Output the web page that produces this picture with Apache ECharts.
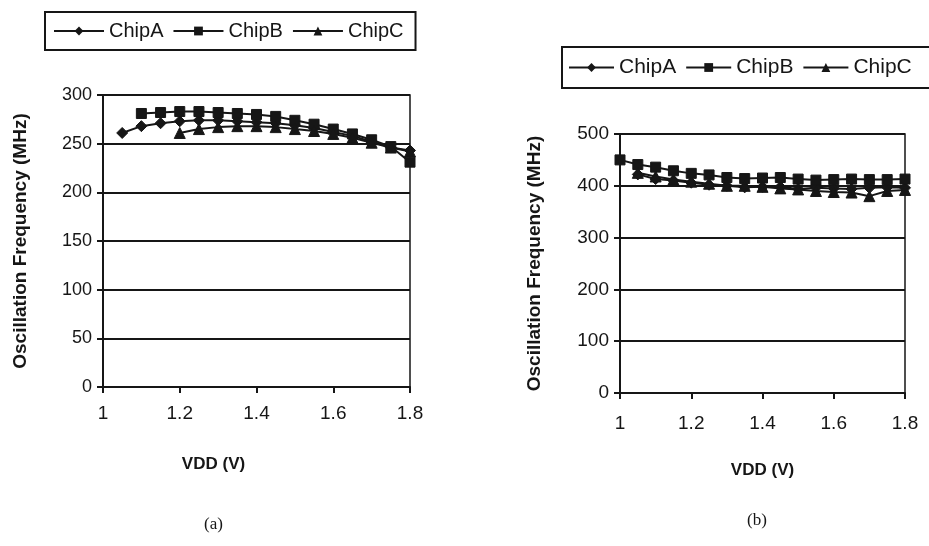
<!DOCTYPE html>
<html>
<head>
<meta charset="utf-8">
<script src="https://cdn.jsdelivr.net/npm/echarts@6/dist/echarts.min.js"></script>
<style>
html, body { margin: 0; padding: 0; background: #fff; }
#main { width: 929px; height: 546px; }
</style>
</head>
<body>
<div id="main"></div>
<script>
// chart (a)
var vddA_a = [1.05, 1.1, 1.15, 1.2, 1.25, 1.3, 1.35, 1.4, 1.45, 1.5, 1.55, 1.6, 1.65, 1.7, 1.75, 1.8];
var chipA_a = [261, 268, 271, 273, 274, 274, 273, 272, 271, 269, 266, 262, 258, 252, 246, 243];
var vddB_a = [1.1, 1.15, 1.2, 1.25, 1.3, 1.35, 1.4, 1.45, 1.5, 1.55, 1.6, 1.65, 1.7, 1.75, 1.8];
var chipB_a = [281, 282, 283, 283, 282, 281, 280, 278, 274, 270, 265, 260, 254, 247, 231];
var vddC_a = [1.2, 1.25, 1.3, 1.35, 1.4, 1.45, 1.5, 1.55, 1.6, 1.65, 1.7, 1.75, 1.8];
var chipC_a = [261, 265, 267, 268, 268, 267, 265, 263, 260, 256, 251, 246, 242];
var yTicksA = [0, 300, 50];

// chart (b)
var vddA_b = [1.05, 1.1, 1.15, 1.2, 1.25, 1.3, 1.35, 1.4, 1.45, 1.5, 1.55, 1.6, 1.65, 1.7, 1.75, 1.8];
var chipA_b = [422, 413, 410, 406, 402, 400, 397, 398, 398, 394, 396, 395, 394, 396, 397, 396];
var vddB_b = [1.0, 1.05, 1.1, 1.15, 1.2, 1.25, 1.3, 1.35, 1.4, 1.45, 1.5, 1.55, 1.6, 1.65, 1.7, 1.75, 1.8];
var chipB_b = [450, 441, 436, 429, 424, 421, 416, 414, 415, 416, 413, 411, 412, 413, 412, 412, 413];
var vddC_b = [1.05, 1.1, 1.15, 1.2, 1.25, 1.3, 1.35, 1.4, 1.45, 1.5, 1.55, 1.6, 1.65, 1.7, 1.75, 1.8];
var chipC_b = [425, 418, 412, 408, 404, 400, 400, 398, 395, 393, 390, 388, 387, 380, 390, 392];
var yTicksB = [0, 500, 100];

var xTicks = [1, 1.8, 0.2];
var names = ['ChipA', 'ChipB', 'ChipC'];
var symbols = ['diamond', 'rect', 'triangle'];
var symSizes = [11, 10, 11];

function pairs(xs, ys) {
  var out = [];
  for (var i = 0; i < xs.length; i++) out.push([xs[i], ys[i]]);
  return out;
}

var ink = '#161616';
var font = 'Liberation Sans, Arial, sans-serif';

function mkX(gi, nameShift, margin, gap) {
  return {
    type: 'value', gridIndex: gi,
    min: xTicks[0], max: xTicks[1], interval: xTicks[2],
    name: 'VDD (V)', nameLocation: 'middle', nameGap: gap,
    nameTextStyle: { color: ink, fontWeight: 'bold', fontSize: 17, fontFamily: font, padding: [0, nameShift, 0, 0] },
    axisLine: { lineStyle: { color: ink, width: 2 } },
    axisTick: { show: true, inside: false, length: 6, lineStyle: { color: ink, width: 2 } },
    splitLine: { show: false },
    axisLabel: {
      color: ink, fontSize: 19, fontFamily: font, margin: margin,
      formatter: function (v) { return String(+v.toFixed(1)); }
    }
  };
}
function mkY(gi, t, fs, gap) {
  return {
    type: 'value', gridIndex: gi,
    min: t[0], max: t[1], interval: t[2],
    name: 'Oscillation Frequency (MHz)', nameLocation: 'middle', nameGap: gap,
    nameTextStyle: { color: ink, fontWeight: 'bold', fontSize: 19, fontFamily: font },
    axisLine: { show: true, lineStyle: { color: ink, width: 2 } },
    axisTick: { show: true, inside: false, length: 6, lineStyle: { color: ink, width: 2 } },
    splitLine: { show: true, lineStyle: { color: ink, width: 2 } },
    axisLabel: { color: ink, fontSize: fs, fontFamily: font, margin: 11 }
  };
}
function mkSeries(k, gi, xs, ys) {
  return {
    name: names[k], type: 'line', xAxisIndex: gi, yAxisIndex: gi,
    data: pairs(xs, ys),
    symbol: symbols[k], symbolSize: symSizes[k], showAllSymbol: true,
    lineStyle: { color: ink, width: 2 },
    itemStyle: { color: ink, borderColor: ink },
    animation: false
  };
}
function mkLegend(left, top, fs, iw, pad, w) {
  return {
    left: left, top: top, width: w, orient: 'horizontal',
    data: names,
    borderColor: ink, borderWidth: 2, borderRadius: 0,
    padding: pad,
    itemWidth: iw, itemHeight: 11, itemGap: 9,
    textStyle: { color: ink, fontSize: fs, fontFamily: font },
    selectedMode: false
  };
}

var chart = echarts.init(document.getElementById('main'), null, { renderer: 'canvas' });
chart.setOption({
  backgroundColor: '#ffffff',
  animation: false,
  legend: [
    mkLegend(45, 12, 20, 50, [9, 12, 9, 8], 373),
    mkLegend(562, 47, 21, 45, [10, 40, 10, 6], 380)
  ],
  grid: [
    { left: 103, top: 95, width: 307, height: 292, show: true, borderColor: ink, borderWidth: 1.5, containLabel: false },
    { left: 620, top: 134, width: 285, height: 259, show: true, borderColor: ink, borderWidth: 1.5, containLabel: false }
  ],
  xAxis: [mkX(0, 86, 17, 69), mkX(1, 0, 21, 69)],
  yAxis: [mkY(0, yTicksA, 18, 73), mkY(1, yTicksB, 19, 76)],
  series: [
    mkSeries(0, 0, vddA_a, chipA_a),
    mkSeries(1, 0, vddB_a, chipB_a),
    mkSeries(2, 0, vddC_a, chipC_a),
    mkSeries(0, 1, vddA_b, chipA_b),
    mkSeries(1, 1, vddB_b, chipB_b),
    mkSeries(2, 1, vddC_b, chipC_b)
  ],
  graphic: [
    { type: 'text', left: 204, top: 516, style: { text: '(a)', fill: ink, fontSize: 17, fontFamily: 'Liberation Serif, serif' } },
    { type: 'text', left: 747, top: 512, style: { text: '(b)', fill: ink, fontSize: 17, fontFamily: 'Liberation Serif, serif' } }
  ]
});
window.addEventListener('resize', chart.resize);
</script>
</body>
</html>
